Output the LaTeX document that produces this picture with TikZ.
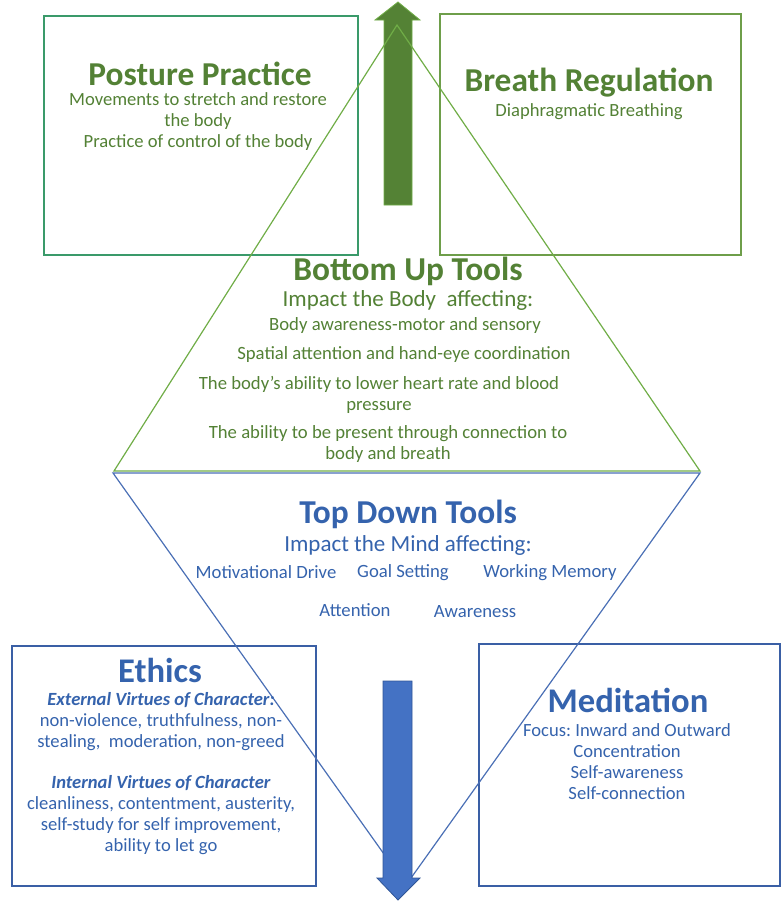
\documentclass[tikz,border=0pt]{standalone}
\usepackage{fontspec}
\setmainfont{Carlito}
\frenchspacing
\definecolor{gtext}{HTML}{538135}
\definecolor{gline}{HTML}{70AD47}
\definecolor{gbox}{HTML}{3A9A6A}
\definecolor{obox}{HTML}{6E9E4A}
\definecolor{garrow}{HTML}{548235}
\definecolor{btext}{HTML}{3563AD}
\definecolor{bline}{HTML}{4A6FB5}
\definecolor{bbox}{HTML}{3A5FA5}
\definecolor{barrow}{HTML}{4472C4}
\definecolor{barrowedge}{HTML}{2F5597}
\tikzset{
  box/.style={draw, line width=1.4pt, fill=none, inner sep=0pt},
  head/.style={inner sep=0pt, font=\fontsize{33.4}{38}\selectfont\bfseries, align=center},
  bighead/.style={inner sep=0pt, font=\fontsize{34.6}{40}\selectfont\bfseries, align=center},
  body/.style={inner sep=0pt, font=\fontsize{18.6}{21}\selectfont, align=center},
  impact/.style={inner sep=0pt, font=\fontsize{23}{26}\selectfont, align=center},
  item/.style={inner sep=0pt, font=\fontsize{18.7}{21}\selectfont, align=center},
  tri/.style={line width=1.2pt},
}
\begin{document}
\begin{tikzpicture}[x=1pt,y=-1pt]
\useasboundingbox (0,0) rectangle (783,903);
% boxes
\node[box, draw=gbox, minimum width=314pt, minimum height=239pt] (posture) at (201,135.5) {};
\node[box, draw=obox, minimum width=301pt, minimum height=241pt] (breath) at (590.5,134.5) {};
\node[box, draw=bbox, minimum width=304pt, minimum height=240pt] (ethics) at (164,766) {};
\node[box, draw=bbox, minimum width=301pt, minimum height=242pt] (medit) at (629.5,765) {};
% triangle corners
\coordinate (gA) at (397,25);
\coordinate (gL) at (114,471);
\coordinate (gR) at (700,471);
\coordinate (bL) at (113,473);
\coordinate (bR) at (700,473);
\coordinate (bA) at (406,885);
% blue inverted triangle
\draw[tri, bline] (bL) -- (bR) -- (bA) -- cycle;
% blue arrow
\draw[fill=barrow, draw=barrowedge, line width=0.8pt, line join=miter]
  (383,681) -- (383,878) -- (377,878) -- (398,900) -- (420,878) -- (412,878) -- (412,681) -- cycle;
% green arrow
\draw[fill=garrow, draw=gline, line width=0.8pt, line join=miter]
  (384,205) -- (384,20) -- (375,20) -- (398,2) -- (420,20) -- (412,20) -- (412,205) -- cycle;
% green triangle
\draw[tri, gline] (gL) -- (gR) -- (gA) -- cycle;
% texts: posture
\node[head, text=gtext] (pt1) at (200,74) {Posture Practice};
\node[body, text=gtext] (pt2) at (198,122) {Movements to stretch and restore\\the body\\Practice of control of the body};
% breath
\node[head, text=gtext] (br1) at (589,83) {Breath Regulation};
\node[body, text=gtext] (br2) at (589,112) {Diaphragmatic Breathing};
% bottom up
\node[head, text=gtext] (bu1) at (408,271) {Bottom Up Tools};
\node[impact, text=gtext] (bu2) at (408,300.5) {Impact the Body\ \ affecting:};
\node[item, text=gtext] (bu3) at (405,325.5) {Body awareness-motor and sensory};
\node[item, text=gtext] (bu4) at (404,355) {Spatial attention and hand-eye coordination};
\node[item, text=gtext] (bu5) at (379,394.5) {The body’s ability to lower heart rate and blood\\pressure};
\node[item, text=gtext] (bu6) at (388,444) {The ability to be present through connection to\\body and breath};
% top down
\node[head, text=btext] (td1) at (408,514) {Top Down Tools};
\node[impact, text=btext] (td2) at (408,545) {Impact the Mind affecting:};
\node[item, text=btext] (td3) at (266,572.5) {Motivational Drive};
\node[item, text=btext] (td4) at (403,572.5) {Goal Setting};
\node[item, text=btext] (td5) at (550,572.5) {Working Memory};
\node[item, text=btext] (td6) at (355,610) {Attention};
\node[item, text=btext] (td7) at (475,612) {Awareness};
% ethics
\node[bighead, text=btext] (et1) at (160,670) {Ethics};
\node[body, text=btext] (et2) at (161,721.5) {\textbf{\textit{External Virtues of Character:}}\\non-violence, truthfulness, non-\\stealing,\ \ moderation, non-greed};
\node[body, text=btext] (et3) at (161,815) {\textbf{\textit{Internal Virtues of Character}}\\cleanliness, contentment, austerity,\\self-study for self improvement,\\ability to let go};
% meditation
\node[bighead, text=btext] (me1) at (628,700) {Meditation};
\node[body, text=btext] (me2) at (627,761.5) {Focus: Inward and Outward\\Concentration\\Self-awareness\\Self-connection};
\end{tikzpicture}
\end{document}
